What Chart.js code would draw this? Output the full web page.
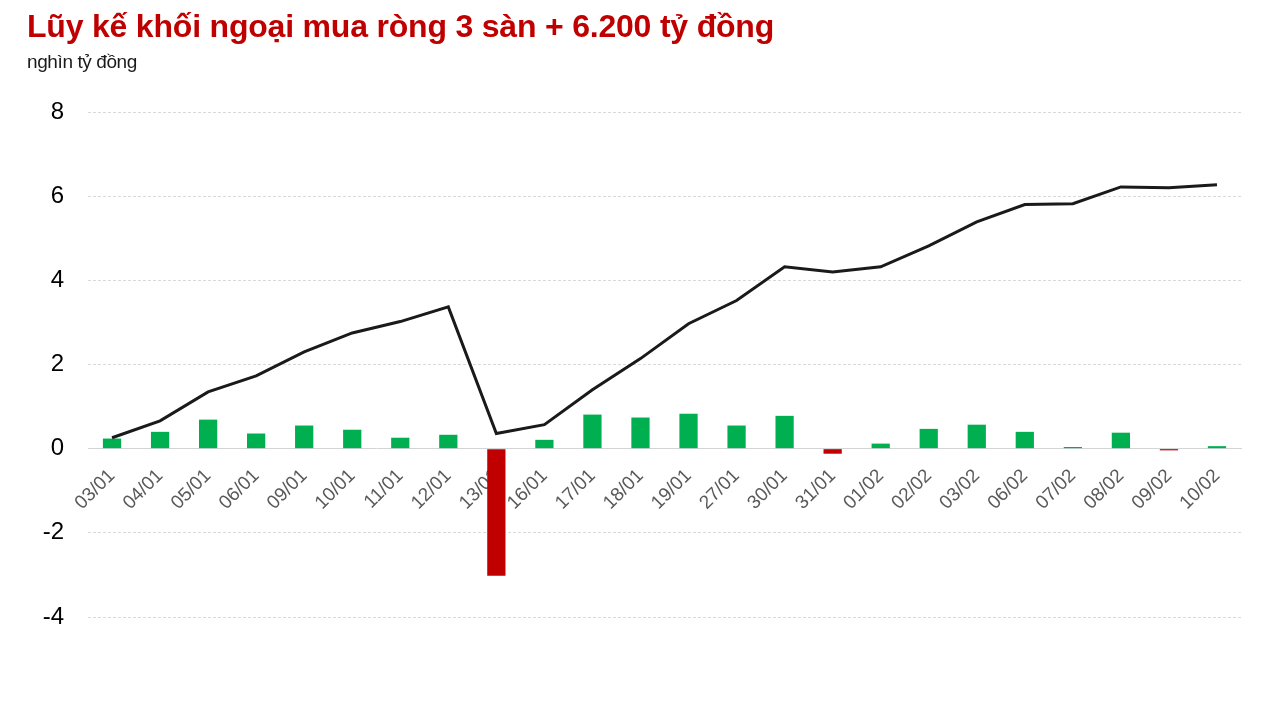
<!DOCTYPE html>
<html>
<head>
<meta charset="utf-8">
<script src="https://cdn.jsdelivr.net/npm/chart.js@4.4.1/dist/chart.umd.min.js"></script>
<style>
    html, body { margin: 0; padding: 0; background: #fff; }
    body { width: 1281px; height: 721px; position: relative; overflow: hidden; font-family: "Liberation Sans", Arial, sans-serif; }
    #title { position: absolute; left: 27px; top: 8px; font-size: 32px; font-weight: bold; color: #c00000; white-space: nowrap; letter-spacing: -0.2px; }
    #subtitle { position: absolute; left: 27px; top: 51px; font-size: 19px; color: #1a1a1a; white-space: nowrap; letter-spacing: -0.4px; }
    #wrap { position: absolute; left: 0; top: 0; width: 1281px; height: 721px; }
</style>
</head>
<body>
<div id="wrap"><canvas id="chart"></canvas></div>
<div id="title">Lũy kế khối ngoại mua ròng 3 sàn + 6.200 tỷ đồng</div>
<div id="subtitle">nghìn tỷ đồng</div>
<script>
// ngày giao dịch
const days = ['03/01', '04/01', '05/01', '06/01', '09/01', '10/01', '11/01', '12/01', '13/01', '16/01',
    '17/01', '18/01', '19/01', '27/01', '30/01', '31/01', '01/02', '02/02', '03/02', '06/02',
    '07/02', '08/02', '09/02', '10/02'];

// mua ròng từng phiên (nghìn tỷ đồng)
const dailyNet = [0.24, 0.40, 0.69, 0.36, 0.55, 0.45, 0.26, 0.33, -3.02, 0.21,
    0.81, 0.74, 0.83, 0.55, 0.78, -0.12, 0.12, 0.47, 0.57, 0.40,
    0.04, 0.38, -0.04, 0.06];

// lũy kế
const cumulative = [0.26, 0.66, 1.35, 1.73, 2.30, 2.75, 3.02, 3.37, 0.36, 0.57,
    1.40, 2.14, 2.97, 3.52, 4.32, 4.20, 4.32, 4.82, 5.39, 5.80,
    5.82, 6.22, 6.20, 6.27];

const yTicks = [-4, -2, 0, 2, 4, 6, 8];

const ctx = document.getElementById('chart').getContext('2d');
const chart = new Chart(ctx, {
    data: {
        labels: days,
        datasets: [
            {
                type: 'line',
                label: 'Lũy kế',
                data: cumulative,
                borderColor: '#1a1a1a',
                borderWidth: 3,
                pointRadius: 0,
                tension: 0,
                order: 0
            },
            {
                type: 'bar',
                label: 'Mua ròng',
                data: dailyNet,
                backgroundColor: dailyNet.map(v => v < 0 ? '#c00000' : '#00b050'),
                barPercentage: 0.38,
                categoryPercentage: 1,
                order: 1
            }
        ]
    },
    options: {
        responsive: true,
        maintainAspectRatio: false,
        animation: false,
        layout: { padding: { left: 0, top: 112, right: 40, bottom: 104 } },
        plugins: {
            legend: { display: false },
            tooltip: { enabled: false }
        },
        scales: {
            x: {
                position: { y: 0 },
                offset: true,
                grid: { display: false, drawTicks: false },
                border: { display: true, color: '#d4d4d4', width: 1 },
                ticks: {
                    color: '#595959',
                    font: { family: '"Liberation Sans", Arial, sans-serif', size: 19 },
                    minRotation: 45,
                    maxRotation: 45,
                    autoSkip: false,
                    padding: 16
                }
            },
            y: {
                min: -4,
                max: 8,
                afterFit: s => { s.width = 88; },
                afterBuildTicks: s => { s.ticks = yTicks.map(v => ({ value: v })); },
                grid: { color: '#d9d9d9', lineWidth: 1, drawTicks: false },
                border: { display: false, dash: [3, 2] },
                ticks: {
                    color: '#000',
                    font: { family: '"Liberation Sans", Arial, sans-serif', size: 24 },
                    padding: 24
                }
            }
        }
    }
});
</script>
</body>
</html>
